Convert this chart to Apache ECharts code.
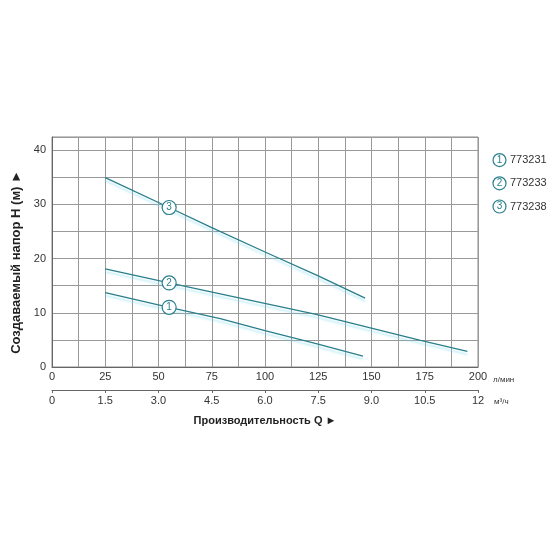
<!DOCTYPE html>
<html>
<head>
<meta charset="utf-8">
<script src="https://cdn.jsdelivr.net/npm/echarts@6/dist/echarts.min.js"></script>
<style>html,body{margin:0;padding:0;background:#fff}#c{width:560px;height:560px}</style>
</head>
<body>
<div id="c"></div>
<script>
// ---- data ----
const models = ['773231', '773233', '773238'];
const markerNums = ['1', '2', '3'];
const flow1 = [25, 55, 79, 100, 124, 146];
const head1 = [13.7, 11.0, 8.9, 6.7, 4.3, 2.0];
const flow2 = [25, 55, 79, 124, 173, 195];
const head2 = [18.1, 15.5, 13.5, 9.7, 4.9, 2.9];
const flow3 = [25, 55, 75, 100, 125, 147];
const head3 = [34.9, 29.4, 25.7, 21.2, 16.8, 12.7];
const markerIndex = 1; // data point carrying the numbered circle
const lminLabels = ['0', '25', '50', '75', '100', '125', '150', '175', '200'];
const m3hLabels = ['0', '1.5', '3.0', '4.5', '6.0', '7.5', '9.0', '10.5', '12'];
const headLabels = ['0', '10', '20', '30', '40'];

const teal = '#2a7f8c';
const flows = [flow1, flow2, flow3];
const heads = [head1, head2, head3];

const series = flows.map((fl, s) => ({
  name: models[s],
  type: 'line',
  xAxisIndex: 0,
  yAxisIndex: 0,
  showSymbol: true,
  symbol: 'none',
  lineStyle: {color: teal, width: 1.3, shadowColor: 'rgba(110,215,240,0.5)', shadowOffsetY: 3, shadowBlur: 2},
  itemStyle: {color: '#fff', borderColor: teal, borderWidth: 1.2},
  z: 3 + s,
  data: fl.map((q, i) => i === markerIndex ? {
    value: [q, heads[s][i]],
    symbol: 'circle',
    symbolSize: 14,
    label: {show: true, position: 'inside', formatter: markerNums[s], color: teal, fontSize: 10, fontFamily: 'Liberation Sans'}
  } : {value: [q, heads[s][i]]})
}));

const chart = echarts.init(document.getElementById('c'), null, {renderer: 'canvas'});
chart.setOption({
  animation: false,
  backgroundColor: '#fff',
  textStyle: {fontFamily: 'Liberation Sans'},
  grid: {left: 52, right: 82, top: 137, bottom: 193, show: true, borderColor: '#888', borderWidth: 1},
  legend: {
    orient: 'vertical',
    left: 483,
    top: 148,
    itemGap: 9,
    itemWidth: 0,
    itemHeight: 0,
    icon: 'none',
    selectedMode: false,
    data: models,
    formatter: name => '{n|' + markerNums[models.indexOf(name)] + '}{t|' + name + '}',
    textStyle: {
      rich: {
        n: {width: 13, height: 13, borderRadius: 7, borderColor: teal, borderWidth: 1.2, align: 'center', color: teal, fontSize: 10, lineHeight: 13},
        t: {color: '#333', fontSize: 11, padding: [0, 0, 0, 4]}
      }
    }
  },
  xAxis: [
    {
      type: 'value', min: 0, max: 200, interval: 12.5,
      name: 'л/мин', nameLocation: 'end', nameGap: 15,
      nameTextStyle: {color: '#333', fontSize: 8, verticalAlign: 'top', padding: [9, 0, 0, 0]},
      axisLine: {show: true, lineStyle: {color: '#666'}},
      axisTick: {show: false},
      axisLabel: {color: '#333', fontSize: 11, margin: 4,
        formatter: v => (v % 25 === 0 ? lminLabels[v / 25] : '')},
      splitLine: {show: true, lineStyle: {color: '#999', width: 1}}
    },
    {
      type: 'value', min: 0, max: 12, interval: 1.5, position: 'bottom', offset: 23,
      name: 'Производительность Q ►', nameLocation: 'middle', nameGap: 25,
      nameTextStyle: {color: '#222', fontSize: 11, fontWeight: 'bold'},
      axisLine: {show: true, lineStyle: {color: '#666'}},
      axisTick: {show: true, length: 3, lineStyle: {color: '#666'}},
      axisLabel: {color: '#333', fontSize: 11, margin: 5,
        formatter: v => m3hLabels[Math.round(v / 1.5)]},
      splitLine: {show: false}
    }
  ],
  yAxis: {
    type: 'value', min: 0, max: 42.4, interval: 5,
    name: 'Создаваемый напор H (м) ►', nameLocation: 'middle', nameGap: 23,
    nameTextStyle: {color: '#222', fontSize: 13, fontWeight: 'bold', padding: [0, 20, 0, 0]},
    axisLine: {show: true, lineStyle: {color: '#666'}},
    axisTick: {show: false},
    axisLabel: {color: '#333', fontSize: 11, margin: 6,
      formatter: v => (v % 10 === 0 ? headLabels[v / 10] : '')},
    splitLine: {show: true, lineStyle: {color: '#999', width: 1}}
  },
  graphic: [
    {type: 'text', left: 494, top: 398, style: {text: 'м³/ч', fill: '#333', fontSize: 8, fontFamily: 'Liberation Sans'}}
  ],
  series: series
});
</script>
</body>
</html>
